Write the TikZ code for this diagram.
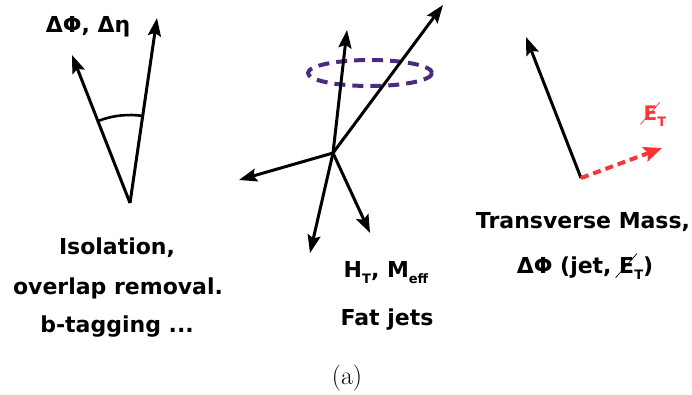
\documentclass[tikz,border=0pt]{standalone}
\usepackage{fontspec}
\newfontfamily\dvfont{DejaVu Sans}
\usetikzlibrary{arrows.meta}
\newcommand\mysubs[1]{\raisebox{-6pt}{\fontsize{13}{13}\selectfont #1}}
\newcommand\slashE[1]{E\tikz[overlay,baseline={(0,0)}]\draw[#1,line width=0.7pt] (-0.85em,-0.2em) -- (0.12em,0.9em);}
\begin{document}
\begin{tikzpicture}[x=1pt,y=-1pt,
  vec/.style={line width=3pt,-{Stealth[length=18pt,width=13pt,inset=3pt]}},
  lbl/.style={font=\dvfont\bfseries\fontsize{22}{22}\selectfont, inner sep=0pt},
  redvec/.style={line width=4pt,draw=metred,dash pattern=on 8pt off 5pt,-{Stealth[length=18pt,width=15pt,inset=3pt]}}]
\definecolor{metred}{HTML}{FF3333}
\definecolor{ringpurple}{HTML}{4B2A7F}
\useasboundingbox (0,0) rectangle (692,394);
% left panel
\coordinate (v1) at (130,203);
\coordinate (t1a) at (72,55);
\coordinate (t1b) at (157,18);
\draw[vec] (v1) -- (t1a);
\draw[vec] (v1) -- (t1b);
\draw[line width=2.6pt] (v1) ++(-110.5:88) arc[start angle=-110.5, end angle=-81.4, radius=88];
\node[lbl] (dphi) at (88,27) {ΔΦ, Δη};
\node[lbl] (iso) at (117,248) {Isolation,};
\node[lbl] (olr) at (118,288) {overlap removal.};
\node[lbl] (btag) at (117,327) {b-tagging ...};
% middle panel
\coordinate (v2) at (333,153);
\coordinate (t2a) at (347,30);
\coordinate (t2b) at (443,5);
\coordinate (t2c) at (239,180);
\coordinate (t2d) at (310,253);
\coordinate (t2e) at (370,233);
\draw[line width=4pt, ringpurple, dash pattern=on 11pt off 7pt] (370,73) ellipse[x radius=62, y radius=13];
\node[inner sep=0pt] (ring) at (370,73) {};
\draw[vec] (v2) -- (t2a);
\draw[vec] (v2) -- (t2b);
\draw[vec] (v2) -- (t2c);
\draw[vec] (v2) -- (t2d);
\draw[vec] (v2) -- (t2e);
\node[lbl] (ht) at (386,273) {H\mysubs{T}, M\mysubs{eff}};
\node[lbl] (fat) at (387,320) {Fat jets};
% right panel
\coordinate (v3) at (581,178);
\coordinate (t3a) at (526,37);
\coordinate (t3b) at (662,148);
\draw[vec] (v3) -- (t3a);
\draw[redvec] (v3) -- (t3b);
\node[lbl, text=metred, font=\dvfont\bfseries\fontsize{20}{20}\selectfont] (met) at (655,116) {\slashE{metred}\mysubs{T}};
\node[lbl] (tm) at (583,222) {Transverse Mass,};
\node[lbl] (dphijet) at (585,268) {ΔΦ (jet, \slashE{black}\mysubs{T})};
% caption
\node[inner sep=0pt, font=\fontsize{26}{26}\selectfont] (cap) at (347,378) {(a)};
\end{tikzpicture}
\end{document}
